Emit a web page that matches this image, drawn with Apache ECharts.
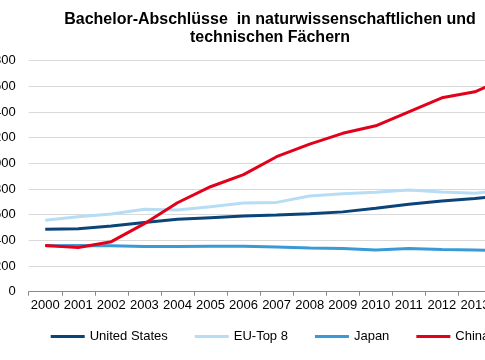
<!DOCTYPE html>
<html><head><meta charset="utf-8">
<script src="https://cdn.jsdelivr.net/npm/echarts@6/dist/echarts.min.js"></script>
<style>html,body{margin:0;padding:0;background:#fff}#c{width:485px;height:360px}</style>
</head><body><div id="c"></div>
<script>
const years = ['2000','2001','2002','2003','2004','2005','2006','2007','2008','2009','2010','2011','2012','2013','2014'];
const unitedStates = [486,491,512,540,564,577,590,597,608,622,650,681,706,727,750];
const euTop8 = [556,584,605,642,636,662,691,696,746,764,774,792,777,767,790];
const japan = [358,360,358,353,352,355,355,348,341,337,325,336,329,325,320];
const china = [360,345,390,530,693,818,912,1052,1150,1234,1293,1402,1511,1558,1670];
const yTicks = [0,200,400,600,800,1000,1200,1400,1600,1800];
const seriesNames = ['United States','EU-Top 8','Japan','China'];
const colors = ['#0A4478','#B7DDF4','#3A9AD6','#E2001A'];
const titleText = 'Bachelor-Abschlüsse  in naturwissenschaftlichen und\ntechnischen Fächern';

const chart = echarts.init(document.getElementById('c'));
const font = '"Liberation Sans", Arial, sans-serif';
const data = [unitedStates, euTop8, japan, china];
chart.setOption({
  animation: false,
  color: colors,
  title: {
    text: titleText,
    left: 265, top: 6, textAlign: 'center',
    textStyle: {fontFamily: font, fontSize: 16, fontWeight: 'bold', color: '#000', lineHeight: 18}
  },
  legend: {
    left: 50.7, top: 330, padding: 0, width: 800,
    itemWidth: 34, itemHeight: 3, itemGap: 27, icon: 'rect',
    textStyle: {fontFamily: font, fontSize: 13, color: '#000'},
    data: seriesNames
  },
  grid: {left: 28.7, top: 60.7, width: 495.8, height: 231, containLabel: false, outerBoundsMode: 'none'},
  xAxis: {
    type: 'category', data: years, boundaryGap: true,
    axisLine: {lineStyle: {color: '#898989', width: 1}},
    axisTick: {show: true, length: 4, lineStyle: {color: '#898989'}},
    axisLabel: {fontFamily: font, fontSize: 13, color: '#000', margin: 7, interval: 0, hideOverlap: false}
  },
  yAxis: {
    type: 'value', min: yTicks[0], max: yTicks[yTicks.length-1], interval: yTicks[1]-yTicks[0],
    axisLine: {show: false}, axisTick: {show: false},
    axisLabel: {fontFamily: font, fontSize: 13, color: '#000', margin: 13, formatter: v => String(v)},
    splitLine: {lineStyle: {color: '#D9D9D9', width: 1}}
  },
  series: seriesNames.map((n, i) => ({
    name: n, type: 'line', data: data[i], symbol: 'none', showSymbol: false,
    lineStyle: {width: 3, color: colors[i]}, itemStyle: {color: colors[i]}, z: 2 + i
  }))
});
</script></body></html>
